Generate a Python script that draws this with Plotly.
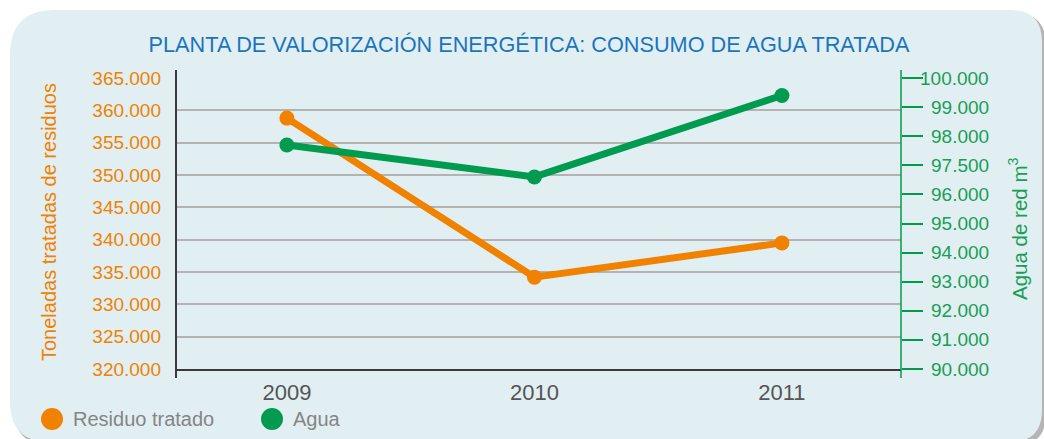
import plotly.graph_objects as go

# --- data ---
years = ["2009", "2010", "2011"]
residuo = [358800, 334200, 339500]      # toneladas tratadas de residuos
agua = [97700, 96600, 99400]            # agua de red m3

left_ticks = [320000, 325000, 330000, 335000, 340000, 345000, 350000, 355000, 360000, 365000]
right_ticks = [90000, 91000, 92000, 93000, 94000, 95000, 96000, 97000, 98000, 99000, 100000]
right_labels = ["90.000", "91.000", "92.000", "93.000", "94.000", "95.000",
                "96.000", "97.500", "98.000", "99.000", "100.000"]

names = ["Residuo tratado", "Agua"]
ORANGE = "#f08200"
GREEN = "#009b4f"
colors = [ORANGE, GREEN]

W, H = 1044, 439
L, R, T, B = 176, 901, 78, 369  # plot area in pixels


def px(x):
    return (x - L) / (R - L)


def py(y):
    return (B - y) / (B - T)


def rounded_path(x0, y0, x1, y1, r_tl, r_tr, r_br, r_bl):
    pts = [
        f"M {px(x0 + r_tl)},{py(y0)}",
        f"L {px(x1 - r_tr)},{py(y0)}",
        f"Q {px(x1)},{py(y0)} {px(x1)},{py(y0 + r_tr)}",
        f"L {px(x1)},{py(y1 - r_br)}",
        f"Q {px(x1)},{py(y1)} {px(x1 - r_br)},{py(y1)}",
        f"L {px(x0 + r_bl)},{py(y1)}",
        f"Q {px(x0)},{py(y1)} {px(x0)},{py(y1 - r_bl)}",
        f"L {px(x0)},{py(y0 + r_tl)}",
        f"Q {px(x0)},{py(y0)} {px(x0 + r_tl)},{py(y0)}",
        "Z",
    ]
    return " ".join(pts)


fig = go.Figure()

fig.add_trace(go.Scatter(
    x=years, y=residuo, name=names[0], mode="lines+markers",
    line=dict(color=ORANGE, width=7), marker=dict(color=ORANGE, size=15),
    yaxis="y", showlegend=False,
))
fig.add_trace(go.Scatter(
    x=years, y=agua, name=names[1], mode="lines+markers",
    line=dict(color=GREEN, width=7), marker=dict(color=GREEN, size=15),
    yaxis="y2", showlegend=False,
))

shapes = []
# card shadow and card
shapes.append(dict(type="path", xref="paper", yref="paper", layer="below",
                   path=rounded_path(13, 13, 1046, 446, 45, 32, 32, 40),
                   fillcolor="rgba(90,90,90,0.45)", line=dict(width=0)))
shapes.append(dict(type="path", xref="paper", yref="paper", layer="below",
                   path=rounded_path(10, 10, 1042, 442, 45, 32, 32, 40),
                   fillcolor="#e1eff3", line=dict(width=0)))
# axis lines extending past the plot area
shapes.append(dict(type="line", xref="paper", yref="paper", x0=0, x1=0,
                   y0=py(378), y1=py(70), line=dict(color="#3a3a3a", width=2)))
shapes.append(dict(type="line", xref="paper", yref="paper", x0=1, x1=1,
                   y0=py(378), y1=py(70), line=dict(color=GREEN, width=1.5)))

annotations = []
# right axis labels, right-aligned
for v, t in zip(right_ticks, right_labels):
    annotations.append(dict(x=px(991), y=v, xref="paper", yref="y2", text=t,
                            showarrow=False, xanchor="right", yanchor="middle",
                            font=dict(size=19, color="#1a9e55")))
# axis titles
annotations.append(dict(x=px(49), y=py(222), xref="paper", yref="paper",
                        text="Toneladas tratadas de residuos", textangle=-90,
                        xanchor="center", yanchor="middle",
                        showarrow=False, font=dict(size=20, color=ORANGE)))
annotations.append(dict(x=px(1018), y=py(229), xref="paper", yref="paper",
                        text="Agua de red m<sup>3</sup>", textangle=-90,
                        xanchor="center", yanchor="middle",
                        showarrow=False, font=dict(size=20.5, color="#1a9e55")))

# legend: circles with labels
legend_x = [52, 272]
for name, col, cx in zip(names, colors, legend_x):
    shapes.append(dict(type="circle", xref="paper", yref="paper",
                       x0=px(cx - 11), x1=px(cx + 11), y0=py(430), y1=py(408),
                       fillcolor=col, line=dict(width=0)))
    annotations.append(dict(x=px(cx + 19), y=py(419), xref="paper", yref="paper",
                            text=name, showarrow=False, xanchor="left",
                            yanchor="middle", font=dict(size=20, color="#858585")))

fig.update_layout(
    width=W, height=H,
    margin=dict(l=L, r=W - R, t=T, b=H - B, pad=0),
    paper_bgcolor="white", plot_bgcolor="rgba(0,0,0,0)",
    font=dict(family="Liberation Sans, Arial, sans-serif"),
    separators=",.",
    title=dict(text="PLANTA DE VALORIZACIÓN ENERGÉTICA: CONSUMO DE AGUA TRATADA",
               xref="container", x=529 / W, xanchor="center",
               y=1 - 44 / H, yanchor="middle",
               font=dict(size=21.7, color="#1b75bc")),
    xaxis=dict(type="category", range=[-0.448, 2.481], showgrid=False,
               showline=True, linecolor="#3a3a3a", linewidth=2, ticks="",
               ticklabelstandoff=3,
               tickfont=dict(size=22, color="#555555"), zeroline=False),
    yaxis=dict(range=[320000, 365000], tickvals=left_ticks, tickformat=",.0f",
               showgrid=True, gridcolor="#b3b3b3", gridwidth=1.5,
               showline=False, ticks="", ticklabelstandoff=14, zeroline=False,
               tickfont=dict(size=19, color=ORANGE)),
    yaxis2=dict(range=[90000, 100000], overlaying="y", side="right",
                tickvals=right_ticks, showticklabels=False, showgrid=False,
                ticks="outside", ticklen=21, tickwidth=1.5, tickcolor=GREEN,
                showline=False, zeroline=False),
    shapes=shapes, annotations=annotations,
)

fig.write_html("out.html")
